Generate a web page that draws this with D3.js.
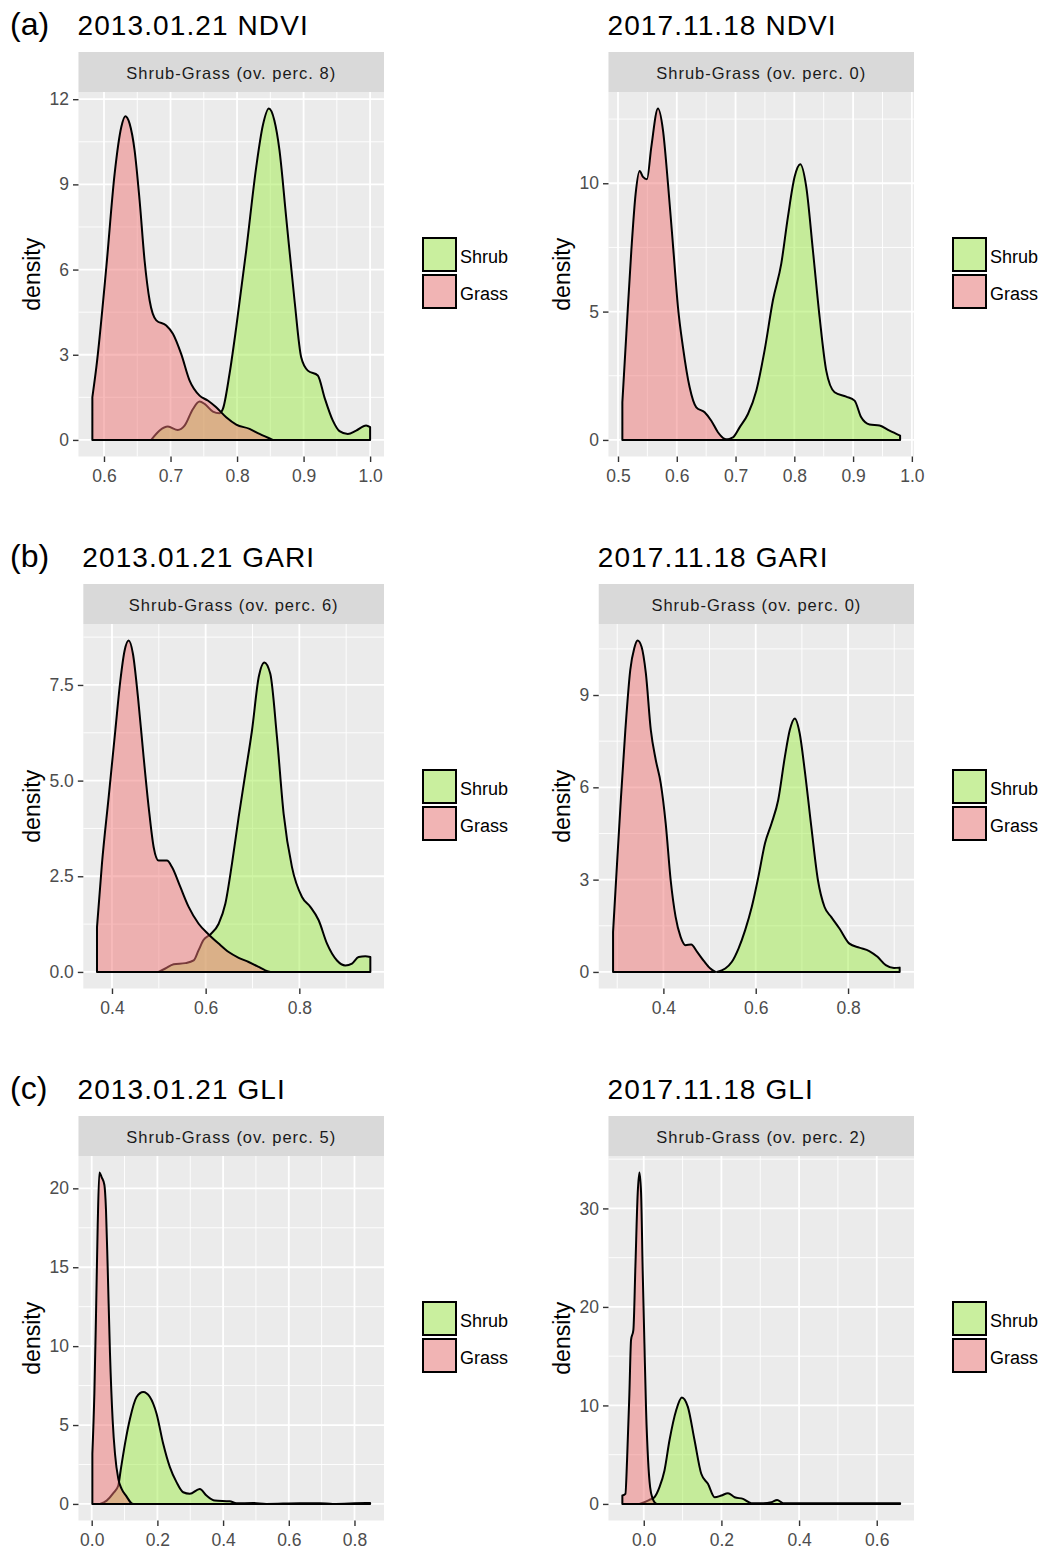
<!DOCTYPE html>
<html>
<head>
<meta charset="utf-8">
<script src="https://cdn.jsdelivr.net/npm/d3@7"></script>
<style>
  body { margin: 0; background: #ffffff; }
  svg { display: block; }
  text { font-family: "Liberation Sans", Arial, sans-serif; }
</style>
</head>
<body>
<svg id="fig" width="1048" height="1550"></svg>
<script>
// ---- Kernel density curves, [value, density] ----
const ndvi2013Grass = [[0.5825,1.50],[0.5885,2.56],[0.6035,6.09],[0.616,9.38],[0.626,11.02],[0.632,11.40],[0.6385,11.14],[0.646,10.2],[0.6535,8.44],[0.661,6.32],[0.6686,4.91],[0.6786,4.21],[0.6936,4.03],[0.7036,3.74],[0.716,3.03],[0.7287,2.09],[0.7437,1.56],[0.756,1.39],[0.7687,1.15],[0.7837,0.80],[0.7988,0.54],[0.8188,0.39],[0.8338,0.21],[0.8538,0]];
const ndvi2013Shrub = [[0.671,0],[0.6836,0.33],[0.696,0.47],[0.711,0.35],[0.7211,0.5],[0.7337,1.09],[0.7437,1.35],[0.7512,1.27],[0.7637,1.0],[0.7737,0.94],[0.7787,1.09],[0.7887,2.33],[0.7988,3.97],[0.8138,6.68],[0.8288,9.61],[0.8388,11.08],[0.8478,11.67],[0.856,11.26],[0.8638,10.2],[0.8738,7.85],[0.8864,4.91],[0.8964,2.91],[0.9064,2.44],[0.9214,2.27],[0.9314,1.50],[0.944,0.68],[0.954,0.31],[0.9665,0.21],[0.979,0.33],[0.994,0.51],[1.0,0.45]];

const ndvi2017Grass = [[0.5074,1.47],[0.5142,4.14],[0.5227,7.39],[0.530,9.6],[0.5368,10.48],[0.5425,10.25],[0.5493,10.16],[0.5567,11.42],[0.568,12.91],[0.5765,12.07],[0.585,9.99],[0.5947,7.26],[0.602,5.18],[0.6105,3.62],[0.6219,2.05],[0.6332,1.27],[0.6474,1.08],[0.6587,0.75],[0.670,0.30],[0.6814,0.04],[0.688,0]];
const ndvi2017Shrub = [[0.6814,0],[0.6956,0.10],[0.7069,0.49],[0.7211,1.01],[0.7353,1.92],[0.7494,3.49],[0.7636,5.44],[0.7778,6.87],[0.7891,8.69],[0.8005,10.25],[0.8101,10.74],[0.8203,9.86],[0.8316,7.39],[0.843,4.79],[0.8543,2.70],[0.8685,1.86],[0.8883,1.69],[0.9025,1.53],[0.9138,0.88],[0.928,0.60],[0.945,0.56],[0.962,0.36],[0.980,0.17]];

const gari2013Grass = [[0.368,1.17],[0.3786,2.83],[0.3929,4.57],[0.4071,6.31],[0.4178,7.61],[0.427,8.40],[0.4356,8.66],[0.4448,8.31],[0.4555,7.18],[0.4676,5.61],[0.4783,4.31],[0.489,3.26],[0.4996,2.91],[0.5174,2.91],[0.5281,2.74],[0.5459,2.22],[0.5637,1.70],[0.585,1.26],[0.6064,0.98],[0.6278,0.74],[0.6491,0.52],[0.6705,0.37],[0.6918,0.26],[0.7132,0.13],[0.7274,0.04],[0.738,0]];
const gari2013Shrub = [[0.4996,0],[0.5139,0.09],[0.5317,0.20],[0.5566,0.23],[0.5744,0.30],[0.585,0.57],[0.5957,0.84],[0.61,0.98],[0.6278,1.26],[0.642,1.78],[0.6562,2.83],[0.6705,4.05],[0.6847,5.18],[0.6989,6.31],[0.7132,7.70],[0.7253,8.09],[0.738,7.79],[0.7523,6.13],[0.7665,4.13],[0.7843,2.74],[0.8057,1.96],[0.8235,1.70],[0.8413,1.35],[0.8591,0.74],[0.8804,0.30],[0.8982,0.17],[0.9125,0.22],[0.9267,0.39],[0.9409,0.41],[0.9516,0.39]];

const gari2017Grass = [[0.291,1.30],[0.2996,3.52],[0.3082,5.69],[0.3176,7.86],[0.3283,9.82],[0.3369,10.52],[0.3441,10.77],[0.3527,10.57],[0.362,9.71],[0.3728,7.86],[0.3835,6.89],[0.3943,6.13],[0.405,4.83],[0.4158,2.98],[0.4265,1.79],[0.4373,1.14],[0.448,0.87],[0.4602,0.89],[0.4731,0.65],[0.4875,0.36],[0.5018,0.11],[0.5125,0]];
const gari2017Shrub = [[0.516,0],[0.534,0.11],[0.5484,0.33],[0.5627,0.76],[0.5771,1.36],[0.5914,2.11],[0.6057,3.09],[0.6201,4.18],[0.6344,4.83],[0.6487,5.59],[0.6631,6.99],[0.6738,7.86],[0.6846,8.24],[0.6953,7.75],[0.7061,6.56],[0.7204,4.72],[0.7348,2.98],[0.7491,2.11],[0.7634,1.79],[0.7814,1.41],[0.8029,0.92],[0.8244,0.79],[0.8459,0.68],[0.8638,0.49],[0.8817,0.22],[0.8996,0.13],[0.9118,0.14]];

const gli2013Grass = [[0.002,3.18],[0.0081,6.99],[0.0132,12.08],[0.0182,17.58],[0.0233,21.0],[0.0304,20.7],[0.0385,20.23],[0.0435,18.64],[0.0486,15.04],[0.0557,9.53],[0.0638,5.30],[0.0709,3.18],[0.081,1.59],[0.0911,0.95],[0.1043,0.53],[0.1215,0.04],[0.1266,0]];
const gli2013Shrub = [[0.0253,0],[0.0456,0.21],[0.0658,0.68],[0.081,1.17],[0.0881,2.12],[0.1013,3.81],[0.1165,5.40],[0.1367,6.78],[0.157,7.10],[0.1772,6.78],[0.1975,5.72],[0.2177,3.81],[0.238,2.33],[0.2582,1.38],[0.2785,0.74],[0.2987,0.64],[0.3291,0.95],[0.3494,0.53],[0.3747,0.21],[0.4203,0.17],[0.4405,0.04],[0.4911,0.06],[0.5316,0],[0.6329,0.04],[0.6937,0.04],[0.7342,0],[0.8354,0.06],[0.8476,0.06]];

const gli2017Grass = [[-0.0551,0.85],[-0.0473,1.02],[-0.043,4.42],[-0.037,11.21],[-0.0327,16.65],[-0.0267,17.67],[-0.0215,24.12],[-0.0155,31.6],[-0.0112,33.64],[-0.0069,31.6],[-0.0026,23.45],[0.0017,16.31],[0.006,9.51],[0.0112,4.42],[0.0164,1.70],[0.0232,0.51],[0.0301,0.07],[0.0344,0]];
const gli2017Shrub = [[-0.0112,0],[0.0017,0.17],[0.0146,0.41],[0.0275,0.68],[0.0405,1.70],[0.0534,3.40],[0.0663,6.46],[0.0835,9.51],[0.0981,10.81],[0.1136,9.85],[0.1308,6.46],[0.1481,3.06],[0.1653,2.04],[0.1825,0.68],[0.1997,0.85],[0.2169,1.09],[0.2341,0.68],[0.2557,0.51],[0.2772,0.07],[0.3073,0.07],[0.3288,0.17],[0.3435,0.41],[0.359,0.07],[0.4106,0.07],[0.4623,0.07],[0.557,0.07],[0.6602,0.07]];

// ---- Axis breaks ----
const ndvi2013XTicks = [0.6, 0.7, 0.8, 0.9, 1.0];
const ndvi2013YTicks = [0, 3, 6, 9, 12];
const ndvi2017XTicks = [0.5, 0.6, 0.7, 0.8, 0.9, 1.0];
const ndvi2017YTicks = [0, 5, 10];
const gari2013XTicks = [0.4, 0.6, 0.8];
const gari2013YTicks = [0, 2.5, 5, 7.5];
const gari2017XTicks = [0.4, 0.6, 0.8];
const gari2017YTicks = [0, 3, 6, 9];
const gli2013XTicks = [0, 0.2, 0.4, 0.6, 0.8];
const gli2013YTicks = [0, 5, 10, 15, 20];
const gli2017XTicks = [0, 0.2, 0.4, 0.6];
const gli2017YTicks = [0, 10, 20, 30];

// ---- Labels ----
const rowTags = ["(a)", "(b)", "(c)"];
const dates = ["2013.01.21", "2017.11.18"];
const indices = ["NDVI", "GARI", "GLI"];
const overlapPerc = [[8, 0], [6, 0], [5, 2]];
const groups = ["Shrub", "Grass"];
const groupFills = ["#9FEB49", "#EF7575"];

// Panel table assembled from the arrays above
const panels = [
  { row: 0, col: 0, shrub: ndvi2013Shrub, grass: ndvi2013Grass, xt: ndvi2013XTicks, yt: ndvi2013YTicks, yf: d3.format("d") },
  { row: 0, col: 1, shrub: ndvi2017Shrub, grass: ndvi2017Grass, xt: ndvi2017XTicks, yt: ndvi2017YTicks, yf: d3.format("d") },
  { row: 1, col: 0, shrub: gari2013Shrub, grass: gari2013Grass, xt: gari2013XTicks, yt: gari2013YTicks, yf: d3.format(".1f") },
  { row: 1, col: 1, shrub: gari2017Shrub, grass: gari2017Grass, xt: gari2017XTicks, yt: gari2017YTicks, yf: d3.format("d") },
  { row: 2, col: 0, shrub: gli2013Shrub, grass: gli2013Grass, xt: gli2013XTicks, yt: gli2013YTicks, yf: d3.format("d") },
  { row: 2, col: 1, shrub: gli2017Shrub, grass: gli2017Grass, xt: gli2017XTicks, yt: gli2017YTicks, yf: d3.format("d") }
];

const svg = d3.select("#fig");
const ROW_H = 532, COL_W = 530;
const TICK_FS = 17.5;

// ggplot-style minor breaks: midpoints of the (extended) major breaks inside the limits
function minorBreaks(ticks, domain) {
  const step = ticks[1] - ticks[0];
  const ext = [ticks[0] - step, ...ticks, ticks[ticks.length - 1] + step];
  const out = [];
  for (let i = 0; i < ext.length - 1; i++) {
    const m = (ext[i] + ext[i + 1]) / 2;
    if (m >= domain[0] && m <= domain[1]) out.push(m);
  }
  return out;
}

function drawPanel(p) {
  const top = p.row * ROW_H;
  const colX = p.col * COL_W;
  const g = svg.append("g");

  const all = p.shrub.concat(p.grass);
  const [xmin, xmax] = d3.extent(all, d => d[0]);
  const ymax = d3.max(all, d => d[1]);
  const xpad = (xmax - xmin) * 0.05, ypad = ymax * 0.05;

  // width of the widest y tick label sets the panel's left edge
  const probe = g.append("g").attr("font-size", TICK_FS);
  let maxW = 0;
  p.yt.forEach(t => {
    const n = probe.append("text").text(p.yf(t)).node();
    maxW = Math.max(maxW, n.getComputedTextLength());
  });
  probe.remove();

  const left = colX + 59 + maxW, right = colX + 384;
  const pTop = top + 92, pBot = top + 456.5;

  const x = d3.scaleLinear().domain([xmin - xpad, xmax + xpad]).range([left, right]);
  const y = d3.scaleLinear().domain([-ypad, ymax + ypad]).range([pBot, pTop]);

  // titles
  if (p.col === 0) {
    g.append("text").attr("x", 10).attr("y", top + 35)
      .attr("font-size", 32).attr("fill", "#000").text(rowTags[p.row]);
  }
  g.append("text").attr("x", left - 1).attr("y", top + 35)
    .attr("font-size", 28).attr("letter-spacing", 1.1).attr("fill", "#000")
    .text(dates[p.col] + " " + indices[p.row]);

  // facet strip
  g.append("rect").attr("x", left).attr("y", top + 52)
    .attr("width", right - left).attr("height", 40).attr("fill", "#D9D9D9");
  g.append("text").attr("x", (left + right) / 2).attr("y", top + 73)
    .attr("text-anchor", "middle").attr("dominant-baseline", "central")
    .attr("font-size", 16.5).attr("letter-spacing", 1.0).attr("fill", "#1A1A1A")
    .text("Shrub-Grass (ov. perc. " + overlapPerc[p.row][p.col] + ")");

  // panel background and grid
  g.append("rect").attr("x", left).attr("y", pTop)
    .attr("width", right - left).attr("height", pBot - pTop).attr("fill", "#EBEBEB");

  const grid = g.append("g").attr("stroke", "#FFFFFF").attr("fill", "none");
  minorBreaks(p.xt, x.domain()).forEach(v => {
    grid.append("line").attr("x1", x(v)).attr("x2", x(v)).attr("y1", pTop).attr("y2", pBot).attr("stroke-width", 0.9);
  });
  minorBreaks(p.yt, y.domain()).forEach(v => {
    grid.append("line").attr("x1", left).attr("x2", right).attr("y1", y(v)).attr("y2", y(v)).attr("stroke-width", 0.9);
  });
  p.xt.forEach(v => {
    grid.append("line").attr("x1", x(v)).attr("x2", x(v)).attr("y1", pTop).attr("y2", pBot).attr("stroke-width", 1.8);
  });
  p.yt.forEach(v => {
    grid.append("line").attr("x1", left).attr("x2", right).attr("y1", y(v)).attr("y2", y(v)).attr("stroke-width", 1.8);
  });

  // density areas: shrub first, grass on top
  const area = d3.area()
    .x(d => x(d[0]))
    .y0(y(0))
    .y1(d => y(d[1]))
    .curve(d3.curveMonotoneX);

  [p.shrub, p.grass].forEach((series, i) => {
    g.append("path").datum(series)
      .attr("d", area)
      .attr("fill", groupFills[i]).attr("fill-opacity", 0.5)
      .attr("stroke", "#000").attr("stroke-width", 2)
      .attr("stroke-linejoin", "round");
  });

  // axes
  const yAxis = g.append("g").attr("transform", `translate(${left},0)`)
    .call(d3.axisLeft(y).tickValues(p.yt).tickFormat(p.yf).tickSize(5.5).tickPadding(4));
  const xAxis = g.append("g").attr("transform", `translate(0,${pBot})`)
    .call(d3.axisBottom(x).tickValues(p.xt).tickFormat(d3.format(".1f")).tickSize(5.5).tickPadding(8));
  [yAxis, xAxis].forEach(ax => {
    ax.select(".domain").remove();
    ax.selectAll(".tick line").attr("stroke", "#333333").attr("stroke-width", 1.4);
    ax.selectAll(".tick text").attr("fill", "#4D4D4D").attr("font-size", TICK_FS)
      .attr("font-family", "'Liberation Sans', Arial, sans-serif");
  });

  // y axis title
  g.append("text")
    .attr("transform", `translate(${colX + 32},${(pTop + pBot) / 2}) rotate(-90)`)
    .attr("text-anchor", "middle").attr("dominant-baseline", "central")
    .attr("font-size", 23).attr("fill", "#000").text("density");

  // legend
  const lg = g.append("g");
  groups.forEach((name, i) => {
    const ky = top + 237 + i * 37;
    lg.append("rect").attr("x", colX + 422).attr("y", ky).attr("width", 35).attr("height", 35)
      .attr("fill", "#F2F2F2");
    lg.append("rect").attr("x", colX + 423).attr("y", ky + 1).attr("width", 33).attr("height", 33)
      .attr("fill", groupFills[i]).attr("fill-opacity", 0.5)
      .attr("stroke", "#000").attr("stroke-width", 2);
    lg.append("text").attr("x", colX + 460).attr("y", ky + 20)
      .attr("dominant-baseline", "central").attr("font-size", 18).attr("fill", "#000").text(name);
  });
}

panels.forEach(drawPanel);
</script>
</body>
</html>
